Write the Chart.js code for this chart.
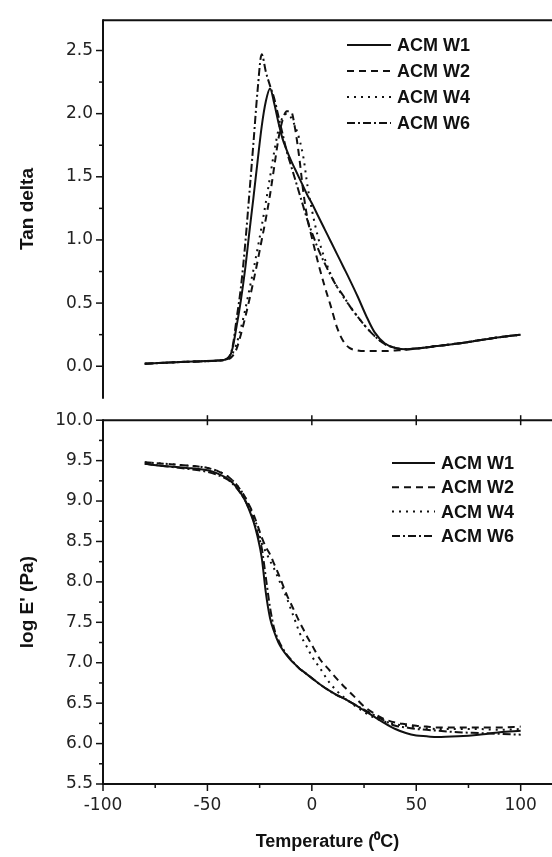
<!DOCTYPE html>
<html>
<head>
<meta charset="utf-8">
<script src="https://cdn.jsdelivr.net/npm/chart.js@4.4.1/dist/chart.umd.min.js"></script>
<style>
  html, body { margin: 0; padding: 0; background: #fff; }
  #wrap { position: relative; width: 552px; height: 857px; overflow: hidden; }
  #wrap canvas { position: absolute; left: 0; }
  #tan { top: 0; }
  #mod { top: 400px; }
</style>
</head>
<body>
<div id="wrap">
  <canvas id="tan" width="552" height="418"></canvas>
  <canvas id="mod" width="552" height="457"></canvas>
</div>
<script>
// series
const seriesNames = ['ACM W1', 'ACM W2', 'ACM W4', 'ACM W6'];

// tan delta panel
const tanTemps = [-80, -60, -45, -40, -38, -36, -34, -32, -30, -28, -26, -24, -22, -20, -18, -16, -14, -12, -10, -8,
                  -6, -4, -2, 0, 3, 6, 9, 12, 15, 18, 22, 26, 30, 35, 40, 45, 50, 60, 70, 80, 90, 100];
const tanW1 = [0.02, 0.035, 0.045, 0.06, 0.14, 0.32, 0.52, 0.76, 1.05, 1.33, 1.62, 1.90, 2.10, 2.20, 2.08, 1.93, 1.80, 1.71, 1.63, 1.56,
               1.49, 1.42, 1.35, 1.29, 1.19, 1.09, 0.99, 0.89, 0.79, 0.69, 0.55, 0.40, 0.27, 0.18, 0.145, 0.135, 0.14, 0.16, 0.18, 0.205, 0.23, 0.25];
const tanW2 = [0.02, 0.035, 0.045, 0.055, 0.08, 0.14, 0.25, 0.38, 0.52, 0.67, 0.83, 1.00, 1.17, 1.36, 1.58, 1.80, 1.95, 2.02, 2.02, 1.88,
               1.65, 1.37, 1.16, 1.02, 0.82, 0.64, 0.48, 0.31, 0.20, 0.145, 0.125, 0.12, 0.12, 0.12, 0.125, 0.13, 0.14, 0.16, 0.18, 0.205, 0.23, 0.25];
const tanW4 = [0.02, 0.035, 0.045, 0.06, 0.10, 0.18, 0.30, 0.44, 0.60, 0.76, 0.93, 1.11, 1.30, 1.50, 1.70, 1.87, 1.97, 2.00, 1.97, 1.90,
               1.80, 1.65, 1.42, 1.24, 1.02, 0.86, 0.73, 0.63, 0.55, 0.48, 0.39, 0.31, 0.24, 0.175, 0.145, 0.135, 0.14, 0.16, 0.18, 0.205, 0.23, 0.25];
const tanW6 = [0.02, 0.035, 0.045, 0.07, 0.15, 0.38, 0.62, 0.95, 1.35, 1.76, 2.18, 2.47, 2.33, 2.22, 2.12, 1.98, 1.84, 1.70, 1.59, 1.48,
               1.37, 1.26, 1.15, 1.06, 0.93, 0.82, 0.72, 0.63, 0.56, 0.48, 0.39, 0.31, 0.24, 0.175, 0.145, 0.135, 0.14, 0.16, 0.18, 0.205, 0.23, 0.25];

// log E' panel
const modTemps = [-80, -70, -60, -50, -45, -40, -36, -32, -30, -28, -26, -24, -22, -20, -18, -16, -14, -12, -10, -8,
                  -6, -4, -2, 0, 4, 8, 12, 16, 20, 25, 30, 35, 40, 45, 50, 55, 60, 70, 80, 90, 100];
const modW1 = [9.46, 9.43, 9.41, 9.38, 9.34, 9.27, 9.17, 9.01, 8.89, 8.75, 8.56, 8.30, 7.86, 7.55, 7.38, 7.25, 7.16, 7.09, 7.03, 6.98,
               6.93, 6.89, 6.85, 6.81, 6.73, 6.66, 6.60, 6.55, 6.49, 6.41, 6.33, 6.25, 6.18, 6.13, 6.10, 6.09, 6.08, 6.09, 6.11, 6.14, 6.16];
const modW2 = [9.48, 9.46, 9.44, 9.41, 9.37, 9.30, 9.20, 9.05, 8.95, 8.84, 8.70, 8.55, 8.43, 8.34, 8.22, 8.10, 7.97, 7.84, 7.73, 7.62,
               7.51, 7.41, 7.31, 7.22, 7.04, 6.92, 6.80, 6.69, 6.59, 6.46, 6.37, 6.30, 6.26, 6.24, 6.22, 6.21, 6.20, 6.20, 6.20, 6.20, 6.21];
const modW4 = [9.48, 9.46, 9.44, 9.41, 9.37, 9.30, 9.20, 9.05, 8.94, 8.82, 8.67, 8.48, 8.37, 8.26, 8.16, 8.04, 7.92, 7.80, 7.66, 7.52,
               7.38, 7.27, 7.18, 7.08, 6.93, 6.77, 6.65, 6.56, 6.48, 6.39, 6.32, 6.27, 6.24, 6.22, 6.20, 6.19, 6.18, 6.18, 6.18, 6.17, 6.18];
const modW6 = [9.46, 9.43, 9.40, 9.36, 9.32, 9.26, 9.16, 9.01, 8.90, 8.77, 8.60, 8.42, 8.05, 7.68, 7.42, 7.28, 7.18, 7.10, 7.04, 6.98,
               6.93, 6.89, 6.85, 6.81, 6.73, 6.66, 6.60, 6.55, 6.49, 6.42, 6.35, 6.28, 6.22, 6.20, 6.18, 6.17, 6.16, 6.14, 6.13, 6.12, 6.11];

// axis ticks
const xMin = -100, xMax = 115;
const midTickValues = [-50, 0, 50, 100];

const dashes = [[], [7, 5], [2, 5], [8, 3, 2, 3]];
const FONT = '"Liberation Sans", Arial, Helvetica, sans-serif';
const TICKFONT = '"DejaVu Sans", Verdana, sans-serif';
const INK = '#111';

const isStep = (v, s) => Math.abs(v / s - Math.round(v / s)) < 1e-6;

const makeSets = (temps, list) => list.map((vals, i) => ({
  label: seriesNames[i],
  data: temps.map((t, k) => ({ x: t, y: vals[k] })),
  borderColor: INK,
  borderWidth: 2,
  borderDash: dashes[i],
  pointRadius: 0,
  fill: false,
  cubicInterpolationMode: 'monotone'
}));

// axis lines and ticks, incl. minor ones
const frame = {
  id: 'frame',
  afterDatasetsDraw(chart, args, opts) {
    const { ctx, chartArea: a } = chart;
    const x = chart.scales.x, y = chart.scales.y;
    const seg = (x1, y1, x2, y2) => { ctx.beginPath(); ctx.moveTo(x1, y1); ctx.lineTo(x2, y2); ctx.stroke(); };
    ctx.save();
    ctx.strokeStyle = INK;
    ctx.lineWidth = 2;
    seg(a.left, a.top - 1, a.left, a.bottom + 1);
    seg(a.left, a.top, a.right, a.top);
    if (opts.bottom) seg(a.left, a.bottom, a.right, a.bottom);
    ctx.lineWidth = 1.5;
    y.ticks.forEach(t => {
      if (!isStep(t.value, 0.25)) return;
      if (opts.skipMin && Math.abs(t.value - y.min) < 1e-6) return;
      const py = y.getPixelForValue(t.value);
      seg(a.left - (isStep(t.value, 0.5) ? 7 : 4), py, a.left, py);
    });
    if (opts.bottom) {
      x.ticks.forEach(t => {
        if (!isStep(t.value, 25)) return;
        const px = x.getPixelForValue(t.value);
        seg(px, a.bottom, px, a.bottom + (isStep(t.value, 50) ? 7 : 4));
      });
    }
    (opts.midTicks || []).forEach(v => {
      const px = x.getPixelForValue(v);
      seg(px, a.top - 5, px, a.top + 5);
    });
    ctx.restore();
  }
};

// legend drawn inside the plot
const inlineLegend = {
  id: 'inlineLegend',
  afterDatasetsDraw(chart, args, o) {
    const { ctx } = chart;
    ctx.save();
    ctx.strokeStyle = INK;
    ctx.fillStyle = INK;
    ctx.lineWidth = 2;
    ctx.font = 'bold ' + o.size + 'px ' + FONT;
    ctx.textBaseline = 'middle';
    chart.data.datasets.forEach((ds, i) => {
      const yy = o.y + i * o.gap;
      ctx.setLineDash(ds.borderDash);
      ctx.beginPath(); ctx.moveTo(o.x, yy); ctx.lineTo(o.x + o.len, yy); ctx.stroke();
      ctx.setLineDash([]);
      ctx.fillText(ds.label, o.x + o.len + 6, yy + 1);
    });
    ctx.restore();
  }
};

const yAxis = (min, max, title) => ({
  type: 'linear', min, max,
  afterFit: s => { s.width = 103; },
  grid: { display: false, drawTicks: false },
  border: { display: false },
  ticks: {
    stepSize: 0.25, autoSkip: false, includeBounds: false, padding: 10,
    color: '#222', font: { family: TICKFONT, size: 17 },
    callback: v => isStep(v, 0.5) ? v.toFixed(1) : ''
  },
  title: {
    display: true, text: title, color: INK,
    font: { family: FONT, size: 19, weight: 'bold' },
    padding: { top: 16, bottom: 0 }
  }
});

const base = {
  responsive: false,
  animation: false,
  events: []
};

new Chart(document.getElementById('tan'), {
  type: 'line',
  data: { datasets: makeSets(tanTemps, [tanW1, tanW2, tanW4, tanW6]) },
  options: {
    ...base,
    layout: { padding: { top: 10.7, bottom: 2.3, left: 0, right: 0 } },
    scales: {
      x: { type: 'linear', min: xMin, max: xMax, display: false },
      y: yAxis(-0.25, 2.74, 'Tan delta')
    },
    plugins: {
      legend: { display: false },
      tooltip: { enabled: false },
      frame: { skipMin: true },
      inlineLegend: { x: 347, y: 45, gap: 26, len: 44, size: 18 }
    }
  },
  plugins: [frame, inlineLegend]
});

new Chart(document.getElementById('mod'), {
  type: 'line',
  data: { datasets: makeSets(modTemps, [modW1, modW2, modW4, modW6]) },
  options: {
    ...base,
    layout: { padding: { top: 15.7, bottom: 0, left: 0, right: 0 } },
    scales: {
      x: {
        type: 'linear', min: xMin, max: xMax,
        afterFit: s => { s.height = 73; },
        grid: { display: false, drawTicks: false },
        border: { display: false },
        ticks: {
          stepSize: 25, autoSkip: false, includeBounds: false, maxRotation: 0, padding: 11,
          color: '#222', font: { family: TICKFONT, size: 17 },
          callback: v => isStep(v, 50) ? String(v) : ''
        },
        title: {
          display: true, text: 'Temperature (\u2070C)', color: INK,
          font: { family: FONT, size: 18, weight: 'bold' },
          padding: { top: 0, bottom: 4 }
        }
      },
      y: yAxis(5.5, 10.0, "log E' (Pa)")
    },
    plugins: {
      legend: { display: false },
      tooltip: { enabled: false },
      frame: { bottom: true, midTicks: midTickValues },
      inlineLegend: { x: 392, y: 63, gap: 24.3, len: 43, size: 18 }
    }
  },
  plugins: [frame, inlineLegend]
});
</script>
</body>
</html>
